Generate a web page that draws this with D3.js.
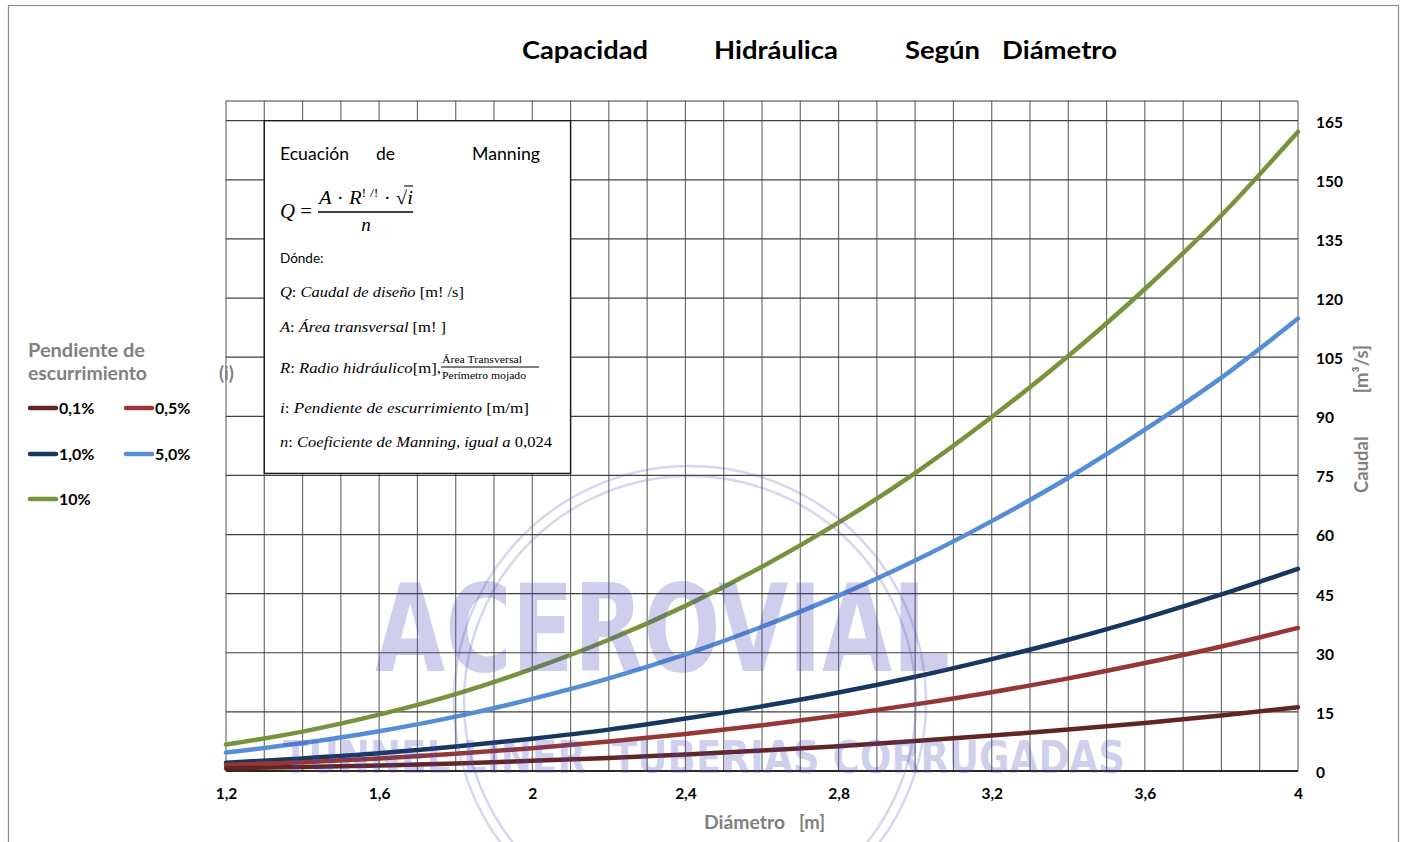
<!DOCTYPE html>
<html>
<head>
<meta charset="utf-8">
<script src="https://cdn.jsdelivr.net/npm/d3@7"></script>
<style>
  body { margin: 0; background: #fff; }
  svg { display: block; }
</style>
</head>
<body>
<div id="chart"></div>
<script>
// Diameter [m] where the curves were read
var diam = [1.2, 1.4, 1.6, 1.8, 2.0, 2.2, 2.4, 2.6, 2.8, 3.0, 3.2, 3.4, 3.6, 3.8, 4.0];
// Caudal [m3/s] per slope
var q01 = [0.7, 1.0, 1.4, 1.9, 2.6, 3.3, 4.2, 5.2, 6.3, 7.6, 9.0, 10.5, 12.2, 14.1, 16.2];
var q05 = [1.5, 2.2, 3.2, 4.4, 5.8, 7.5, 9.4, 11.6, 14.1, 16.9, 20.0, 23.5, 27.4, 31.6, 36.3];
var q1  = [2.1, 3.2, 4.5, 6.2, 8.2, 10.5, 13.3, 16.4, 19.9, 23.9, 28.4, 33.3, 38.8, 44.8, 51.3];
var q5  = [4.7, 7.1, 10.1, 13.8, 18.3, 23.5, 29.6, 36.6, 44.5, 53.4, 63.4, 74.4, 86.6, 99.8, 114.8];
var q10 = [6.7, 10.0, 14.3, 19.5, 25.9, 33.3, 41.9, 51.8, 63.0, 75.6, 89.8, 105.3, 122.3, 141.0, 162.2];

var seriesNames = ["0,1%", "0,5%", "1,0%", "5,0%", "10%"];
var seriesColors = ["#632523", "#953735", "#17375e", "#558ed5", "#77933c"];
var xTicks = [1.2, 1.6, 2.0, 2.4, 2.8, 3.2, 3.6, 4.0];
var yTicks = [0, 15, 30, 45, 60, 75, 90, 105, 120, 135, 150, 165];

var W = 1403, H = 842,
    plot_left = 226, plot_right = 1298,
    plot_top = 101, plot_bottom = 771,
    sans = "Lato, 'Open Sans', sans-serif",
    serif = "'Liberation Serif', 'DejaVu Serif', serif";

var seriesValues = [q01, q05, q1, q5, q10];

var svg = d3.select("#chart").append("svg")
    .attr("width", W)
    .attr("height", H);

svg.append("rect").attr("width", W).attr("height", H).attr("fill", "#fff");
// outer frame of the chart area
svg.append("rect")
    .attr("x", 8.5).attr("y", 5.5)
    .attr("width", 1390).attr("height", 860)
    .attr("fill", "none").attr("stroke", "#8c8c8c").attr("stroke-width", 1.2);

var x = d3.scaleLinear().domain([1.2, 4]).range([plot_left, plot_right]);
var y = d3.scaleLinear().domain([0, 170]).range([plot_bottom, plot_top]);
var loc = d3.formatLocale({decimal: ",", thousands: ".", grouping: [3], currency: ["", ""]});
var fmt = loc.format("~g");

// Title (justified words)
var titleWords = [["Capacidad", 522, 126], ["Hidráulica", 714, 124], ["Según", 905, 75], ["Diámetro", 1002, 115]];
svg.append("g").selectAll("text").data(titleWords).join("text")
    .attr("x", d => d[1]).attr("y", 59)
    .attr("font-family", sans).attr("font-weight", "bold").attr("font-size", 25)
    .attr("textLength", d => d[2]).attr("lengthAdjust", "spacingAndGlyphs")
    .attr("fill", "#000")
    .text(d => d[0]);

// Grid
var grid = svg.append("g").attr("id", "grid");
grid.selectAll(".vg").data(x.ticks(28)).join("line")
    .attr("x1", d => x(d)).attr("x2", d => x(d))
    .attr("y1", plot_top).attr("y2", plot_bottom)
    .attr("stroke", "#6f6f6f").attr("stroke-width", 1.2);
grid.selectAll(".hg").data(yTicks.concat([170])).join("line")
    .attr("x1", plot_left).attr("x2", plot_right)
    .attr("y1", d => y(d)).attr("y2", d => y(d))
    .attr("stroke", "#404040").attr("stroke-width", 1.2);
grid.append("line")
    .attr("x1", plot_left).attr("x2", plot_right)
    .attr("y1", plot_bottom).attr("y2", plot_bottom)
    .attr("stroke", "#000").attr("stroke-width", 1.6);

// Axes
var yAxis = d3.axisRight(y).tickValues(yTicks).tickSize(0).tickPadding(18);
svg.append("g")
    .attr("transform", "translate(" + plot_right + ",1.5)")
    .call(yAxis)
    .call(g => g.select(".domain").remove())
    .selectAll("text")
        .attr("font-family", sans).attr("font-weight", "bold").attr("font-size", 15.5)
        .attr("fill", "#000");

var xAxis = d3.axisBottom(x).tickValues(xTicks).tickSize(0).tickPadding(17).tickFormat(fmt);
svg.append("g")
    .attr("transform", "translate(0," + plot_bottom + ")")
    .call(xAxis)
    .call(g => g.select(".domain").remove())
    .selectAll("text")
        .attr("font-family", sans).attr("font-weight", "bold").attr("font-size", 15.5)
        .attr("fill", "#000");

// Axis titles
var axisTitle = function(sel) {
    return sel.attr("font-family", sans).attr("font-weight", "bold").attr("font-size", 18.5).attr("fill", "#808080");
};
svg.append("text").attr("x", 704).attr("y", 829).call(axisTitle)
    .attr("textLength", 81).attr("lengthAdjust", "spacingAndGlyphs")
    .text("Diámetro");
svg.append("text").attr("x", 799).attr("y", 829).call(axisTitle)
    .text("[m]");
svg.append("text").attr("transform", "translate(1368,493) rotate(-90)").call(axisTitle)
    .text("Caudal");
svg.append("text").attr("transform", "translate(1368,345) rotate(-90)").call(axisTitle)
    .attr("text-anchor", "end")
    .text("[m³/s]");

// Curves
var line = d3.line()
    .x(function(d){return x(d[0]);})
    .y(function(d){return y(d[1]);})
    .curve(d3.curveMonotoneX);
var curves = svg.append("g").attr("id", "curves");
[4, 3, 2, 1, 0].forEach(function(k) {
    curves.append("path")
        .attr("d", line(diam.map((dv, i) => [dv, seriesValues[k][i]])))
        .attr("fill", "none")
        .attr("stroke", seriesColors[k])
        .attr("stroke-width", 4.5)
        .attr("stroke-linecap", "round");
});

// Equation box
var box = svg.append("g").attr("id", "equation");
box.append("rect")
    .attr("x", x(1.3)).attr("y", y(165))
    .attr("width", x(2.1) - x(1.3)).attr("height", y(75) - y(165) - 2)
    .attr("fill", "#fff").attr("stroke", "#1a1a1a").attr("stroke-width", 1.4);
[["Ecuación", 280, 69], ["de", 376, 19], ["Manning", 472, 68]].forEach(function(w) {
    box.append("text").attr("x", w[1]).attr("y", 160)
        .attr("font-family", sans).attr("font-size", 17).attr("fill", "#000")
        .attr("textLength", w[2]).attr("lengthAdjust", "spacingAndGlyphs")
        .text(w[0]);
});
box.append("text").attr("x", 280).attr("y", 218)
    .attr("font-family", serif).attr("font-size", 21).attr("fill", "#000")
    .attr("textLength", 32).attr("lengthAdjust", "spacingAndGlyphs")
    .html("<tspan font-style='italic'>Q</tspan> =");
var num = box.append("text").attr("x", 319).attr("y", 204)
    .attr("font-family", serif).attr("font-size", 19).attr("fill", "#000")
    .attr("textLength", 94).attr("lengthAdjust", "spacingAndGlyphs");
num.append("tspan").attr("font-style", "italic").text("A");
num.append("tspan").text(" · ");
num.append("tspan").attr("font-style", "italic").text("R");
num.append("tspan").attr("font-size", 13).attr("dy", -7).text("! /!");
num.append("tspan").attr("dy", 7).text("  · √");
num.append("tspan").attr("font-style", "italic").text("i");
box.append("line").attr("x1", 404).attr("x2", 413).attr("y1", 186).attr("y2", 186)
    .attr("stroke", "#000").attr("stroke-width", 1.1);
box.append("line").attr("x1", 318).attr("x2", 413).attr("y1", 212).attr("y2", 212)
    .attr("stroke", "#000").attr("stroke-width", 1.6);
box.append("text").attr("x", 366).attr("y", 231).attr("text-anchor", "middle")
    .attr("font-family", serif).attr("font-style", "italic").attr("font-size", 19).text("n");
box.append("text").attr("x", 280).attr("y", 263)
    .attr("font-family", sans).attr("font-size", 13.5).text("Dónde:");

var defs = [
    ["Q", ": ", "Caudal de diseño ", "[m! /s]", 297, 184],
    ["A", ": ", "Área transversal ", "[m! ]", 332, 166],
    ["R", ": ", "Radio hidráulico", "[m], ", 373, 161],
    ["i", ": ", "Pendiente de escurrimiento ", "[m/m]", 413, 249],
    ["n", ": ", "Coeficiente de Manning, igual a ", "0,024", 447, 272]
];
defs.forEach(function(d) {
    var t = box.append("text").attr("x", 280).attr("y", d[4])
        .attr("font-family", serif).attr("font-size", 15.5).attr("fill", "#000")
        .attr("textLength", d[5]).attr("lengthAdjust", "spacingAndGlyphs");
    t.append("tspan").attr("font-style", "italic").text(d[0]);
    t.append("tspan").text(d[1]);
    t.append("tspan").attr("font-style", "italic").text(d[2]);
    t.append("tspan").text(d[3]);
});
box.append("text").attr("x", 442).attr("y", 363)
    .attr("font-family", serif).attr("font-size", 10.5)
    .attr("textLength", 80).attr("lengthAdjust", "spacingAndGlyphs").text("Área Transversal");
box.append("line").attr("x1", 441).attr("x2", 539).attr("y1", 367).attr("y2", 367)
    .attr("stroke", "#000").attr("stroke-width", 1);
box.append("text").attr("x", 442).attr("y", 379)
    .attr("font-family", serif).attr("font-size", 10.5)
    .attr("textLength", 84).attr("lengthAdjust", "spacingAndGlyphs").text("Perímetro mojado");

// Legend
var legend = svg.append("g").attr("id", "legend");
legend.append("text").attr("x", 28).attr("y", 357).call(axisTitle)
    .attr("textLength", 117).attr("lengthAdjust", "spacingAndGlyphs")
    .text("Pendiente de");
legend.append("text").attr("x", 28).attr("y", 380).call(axisTitle)
    .attr("textLength", 119).attr("lengthAdjust", "spacingAndGlyphs")
    .text("escurrimiento");
legend.append("text").attr("x", 219).attr("y", 380).call(axisTitle)
    .text("(i)");
var legPos = [[28, 408], [124, 408], [28, 454], [124, 454], [28, 499]];
seriesNames.forEach(function(name, k) {
    var p = legPos[k];
    legend.append("line")
        .attr("x1", p[0] + 2).attr("x2", p[0] + 28)
        .attr("y1", p[1]).attr("y2", p[1])
        .attr("stroke", seriesColors[k]).attr("stroke-width", 4.5).attr("stroke-linecap", "round");
    legend.append("text").attr("x", p[0] + 31).attr("y", p[1] + 6)
        .attr("font-family", sans).attr("font-weight", "bold").attr("font-size", 16).attr("fill", "#000")
        .text(name);
});

// Watermark
var wm = svg.append("g").attr("id", "watermark").attr("pointer-events", "none");
[236, 226].forEach(function(r) {
    wm.append("circle").attr("cx", 690).attr("cy", 702).attr("r", r)
        .attr("fill", "none").attr("stroke", "rgba(90,90,190,0.25)").attr("stroke-width", 2.5);
});
wm.append("text").attr("x", 375).attr("y", 671)
    .attr("font-family", "'DejaVu Sans', sans-serif").attr("font-weight", "bold").attr("font-size", 122)
    .attr("textLength", 575).attr("lengthAdjust", "spacingAndGlyphs")
    .attr("fill", "rgba(70,70,185,0.26)")
    .text("ACEROVIAL");
wm.append("text").attr("x", 283).attr("y", 773)
    .attr("font-family", "'DejaVu Sans', sans-serif").attr("font-weight", "bold").attr("font-size", 44)
    .attr("textLength", 842).attr("lengthAdjust", "spacingAndGlyphs")
    .attr("fill", "rgba(70,70,185,0.26)")
    .attr("xml:space", "preserve")
    .text("TUNNEL LINER  TUBERIAS CORRUGADAS");
</script>
</body>
</html>
